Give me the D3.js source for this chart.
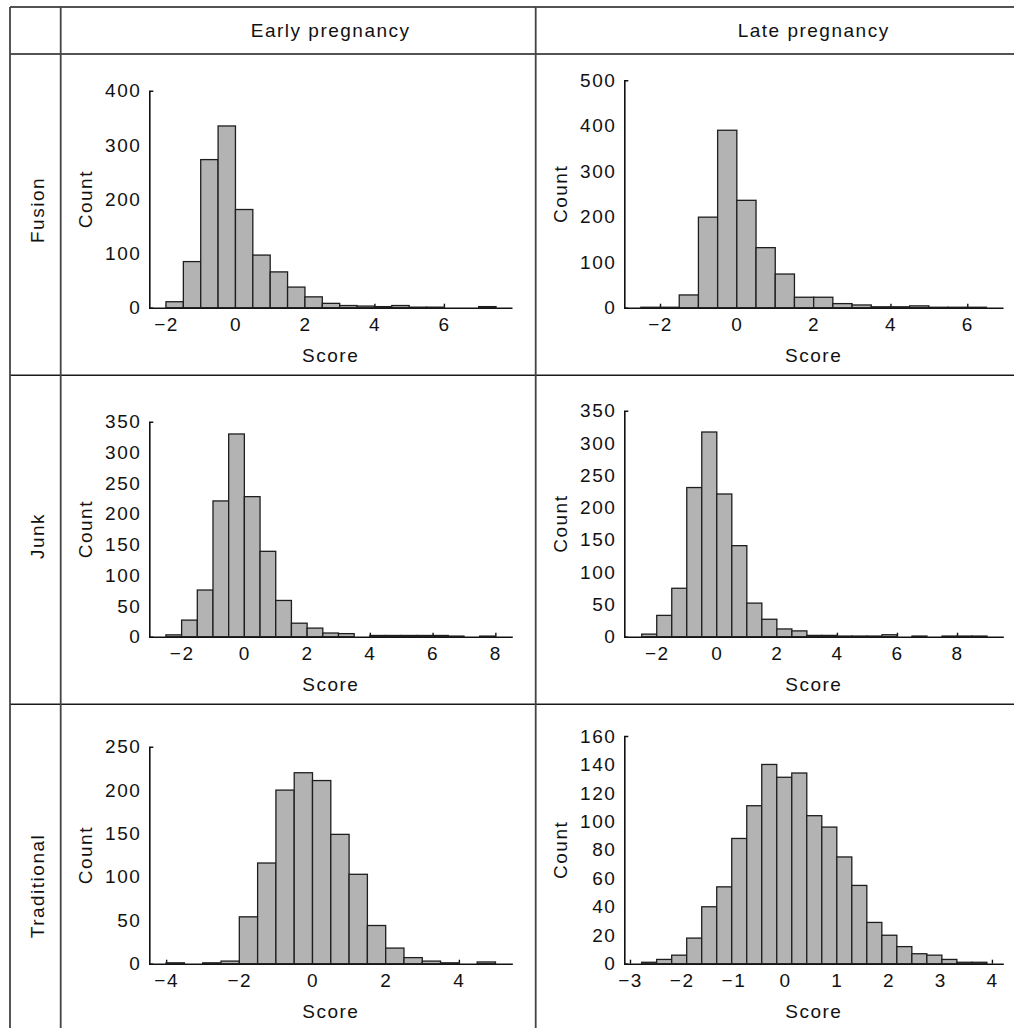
<!DOCTYPE html>
<html>
<head>
<meta charset="utf-8">
<script src="https://cdn.jsdelivr.net/npm/d3@7"></script>
<style>
  html, body { margin: 0; padding: 0; background: #fff; }
  svg { display: block; }
  text { font-family: "Liberation Sans", Arial, Helvetica, sans-serif; font-size: 19px; fill: #111; letter-spacing: 1.5px; }
</style>
</head>
<body>
<div id="chart"></div>
<script>
// ---------- DATA ----------
const rowNames = ["Fusion", "Junk", "Traditional"];
const colNames = ["Early pregnancy", "Late pregnancy"];
const xLabel = "Score";
const yLabel = "Count";

// Histogram counts (bin start, bin width, counts)
const fusionEarlyStart = -2,    fusionEarlyWidth = 0.5;
const fusionEarlyCounts = [11, 85, 273, 335, 181, 97, 66, 38, 20, 8, 4, 3, 2, 4, 1, 1, 0, 0, 2];
const fusionLateStart = -2.5,   fusionLateWidth = 0.5;
const fusionLateCounts = [1, 1, 28, 199, 390, 236, 132, 74, 23, 23, 9, 6, 2, 2, 4, 1, 1, 1];
const junkEarlyStart = -2.5,    junkEarlyWidth = 0.5;
const junkEarlyCounts = [3, 27, 76, 221, 330, 228, 139, 59, 22, 14, 6, 5, 0, 2, 2, 2, 2, 2, 1, 0, 1];
const junkLateStart = -2.5,     junkLateWidth = 0.5;
const junkLateCounts = [4, 33, 75, 231, 317, 221, 141, 52, 27, 12, 9, 2, 2, 1, 1, 1, 3, 0, 1, 0, 1, 1, 1];
const tradEarlyStart = -4,      tradEarlyWidth = 0.5;
const tradEarlyCounts = [1, 0, 1, 3, 54, 116, 200, 220, 211, 149, 103, 44, 18, 7, 3, 1, 0, 2];
const tradLateStart = -2.774,   tradLateWidth = 0.2903;
const tradLateCounts = [1, 3, 6, 18, 40, 54, 88, 111, 140, 131, 134, 104, 96, 75, 55, 29, 20, 12, 7, 6, 3, 1, 1];

// Tick values
const fusionEarlyXTicks = [-2, 0, 2, 4, 6];
const fusionEarlyYTicks = [0, 100, 200, 300, 400];
const fusionLateXTicks = [-2, 0, 2, 4, 6];
const fusionLateYTicks = [0, 100, 200, 300, 400, 500];
const junkEarlyXTicks = [-2, 0, 2, 4, 6, 8];
const junkEarlyYTicks = [0, 50, 100, 150, 200, 250, 300, 350];
const junkLateXTicks = [-2, 0, 2, 4, 6, 8];
const junkLateYTicks = [0, 50, 100, 150, 200, 250, 300, 350];
const tradEarlyXTicks = [-4, -2, 0, 2, 4];
const tradEarlyYTicks = [0, 50, 100, 150, 200, 250];
const tradLateXTicks = [-3, -2, -1, 0, 1, 2, 3, 4];
const tradLateYTicks = [0, 20, 40, 60, 80, 100, 120, 140, 160];

// Axis domains
const fusionEarlyXDomain = [-2.48, 7.96];
const fusionLateXDomain = [-2.93, 6.93];
const junkEarlyXDomain = [-3.03, 8.54];
const junkLateXDomain = [-3.08, 9.54];
const tradEarlyXDomain = [-4.46, 5.46];
const tradLateXDomain = [-3.11, 4.22];

// ---------- LAYOUT ----------
const W = 1014, H = 1028;
const tableLeft = 10, tableTop = 7, colLine1 = 60.7, colLine2 = 535.7, tableRight = 1030;
const headerBottom = 54, rowLines = [375.3, 704.3], tableBottom = 1060;

const panels = [
  { row: 0, col: 0, start: fusionEarlyStart, width: fusionEarlyWidth, counts: fusionEarlyCounts,
    xDom: fusionEarlyXDomain, xTicks: fusionEarlyXTicks, yTicks: fusionEarlyYTicks,
    x0: 149.3, x1: 512, yTop: 90.7, yBot: 307.7 },
  { row: 0, col: 1, start: fusionLateStart, width: fusionLateWidth, counts: fusionLateCounts,
    xDom: fusionLateXDomain, xTicks: fusionLateXTicks, yTicks: fusionLateYTicks,
    x0: 624.3, x1: 1003, yTop: 80.2, yBot: 307.7 },
  { row: 1, col: 0, start: junkEarlyStart, width: junkEarlyWidth, counts: junkEarlyCounts,
    xDom: junkEarlyXDomain, xTicks: junkEarlyXTicks, yTicks: junkEarlyYTicks,
    x0: 149.3, x1: 512.3, yTop: 421.7, yBot: 636.7 },
  { row: 1, col: 1, start: junkLateStart, width: junkLateWidth, counts: junkLateCounts,
    xDom: junkLateXDomain, xTicks: junkLateXTicks, yTicks: junkLateYTicks,
    x0: 624.3, x1: 1003.3, yTop: 410.7, yBot: 636.7 },
  { row: 2, col: 0, start: tradEarlyStart, width: tradEarlyWidth, counts: tradEarlyCounts,
    xDom: tradEarlyXDomain, xTicks: tradEarlyXTicks, yTicks: tradEarlyYTicks,
    x0: 149.3, x1: 512.3, yTop: 746.7, yBot: 963.7 },
  { row: 2, col: 1, start: tradLateStart, width: tradLateWidth, counts: tradLateCounts,
    xDom: tradLateXDomain, xTicks: tradLateXTicks, yTicks: tradLateYTicks,
    x0: 624.3, x1: 1003.3, yTop: 736, yBot: 963.7 }
];

const rowLabelY = [210, 536, 886];

const svg = d3.select("#chart").append("svg")
  .attr("width", W).attr("height", H);

// ---------- TABLE GRID ----------
const grid = svg.append("g").attr("class", "grid");
// horizontal lines
[tableTop, headerBottom, ...rowLines].forEach(y => {
  grid.append("line").attr("x1", tableLeft).attr("x2", tableRight)
    .attr("y1", y).attr("y2", y)
    .attr("stroke", "#1a1a1a").attr("stroke-width", 1.6);
});
// vertical lines
[tableLeft, colLine1, colLine2].forEach(x => {
  grid.append("line").attr("x1", x).attr("x2", x)
    .attr("y1", tableTop).attr("y2", tableBottom)
    .attr("stroke", "#444").attr("stroke-width", 1.8);
});

// row labels
rowNames.forEach((name, i) => {
  svg.append("text")
    .attr("transform", `translate(44,${rowLabelY[i]}) rotate(-90)`)
    .attr("text-anchor", "middle")
    .text(name);
});

// ---------- PANELS ----------
panels.forEach(p => {
  const g = svg.append("g");
  const x = d3.scaleLinear().domain(p.xDom).range([p.x0, p.x1]);
  const yMax = p.yTicks[p.yTicks.length - 1];
  const y = d3.scaleLinear().domain([0, yMax]).range([p.yBot, p.yTop]);

  // column header on top row
  if (p.row === 0) {
    svg.append("text")
      .attr("x", (p.x0 + p.x1) / 2).attr("y", 36.7)
      .attr("text-anchor", "middle")
      .text(colNames[p.col]);
  }

  // x axis
  const xAxis = g.append("g")
    .attr("transform", `translate(0,${p.yBot})`)
    .call(d3.axisBottom(x).tickValues(p.xTicks).tickFormat(d3.format("d"))
      .tickSizeInner(-4).tickSizeOuter(0).tickPadding(9.5));
  // y axis
  const yAxis = g.append("g")
    .attr("transform", `translate(${p.x0},0)`)
    .call(d3.axisLeft(y).tickValues(p.yTicks).tickFormat(d3.format("d"))
      .tickSizeInner(0).tickSizeOuter(-4).tickPadding(8));

  [xAxis, yAxis].forEach(a => {
    a.selectAll("path").attr("stroke", "#111").attr("stroke-width", 1.6);
    a.selectAll("line").attr("stroke", "#111").attr("stroke-width", 1.4);
    a.selectAll("text").attr("fill", "#111")
      .style("font-family", "'Liberation Sans', Arial, sans-serif")
      .style("font-size", "19px");
  });

  // bars
  const bins = p.counts.map((c, i) => ({
    x0: p.start + i * p.width,
    x1: p.start + (i + 1) * p.width,
    count: c
  })).filter(b => b.count > 0);

  g.append("g").selectAll("rect").data(bins).join("rect")
    .attr("x", d => x(d.x0))
    .attr("width", d => x(d.x1) - x(d.x0))
    .attr("y", d => y(d.count))
    .attr("height", d => y(0) - y(d.count))
    .attr("fill", "#b3b3b3")
    .attr("stroke", "#1e1e1e")
    .attr("stroke-width", 1.3);

  // axis titles
  g.append("text")
    .attr("transform", `translate(${p.x0 - 57},${(p.yTop + p.yBot) / 2}) rotate(-90)`)
    .attr("text-anchor", "middle")
    .text(yLabel);
  g.append("text")
    .attr("x", (p.x0 + p.x1) / 2).attr("y", p.yBot + 54)
    .attr("text-anchor", "middle")
    .text(xLabel);
});
</script>
</body>
</html>
